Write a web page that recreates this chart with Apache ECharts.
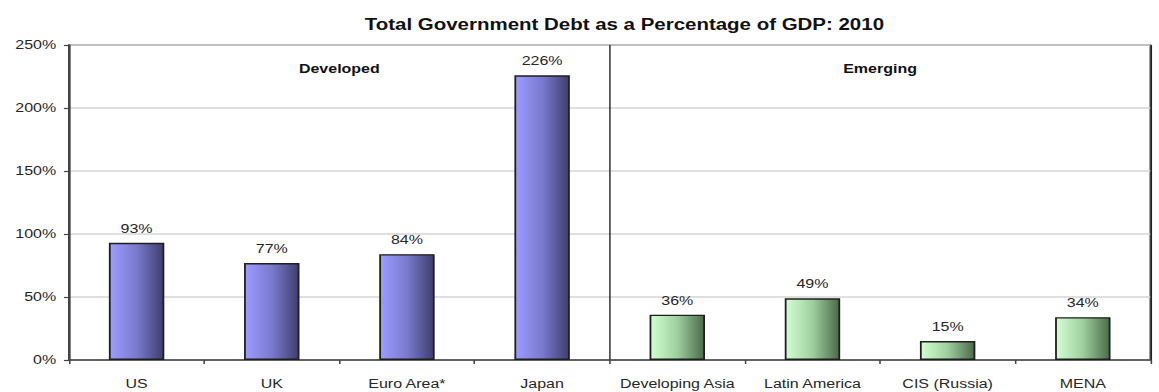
<!DOCTYPE html>
<html>
<head>
<meta charset="utf-8">
<title>Total Government Debt as a Percentage of GDP: 2010</title>
<script src="https://cdn.jsdelivr.net/npm/echarts@6/dist/echarts.min.js"></script>
<style>
  html, body { margin: 0; padding: 0; background: #fff; overflow: hidden; }
  /* The chart is laid out narrow and widened horizontally, giving the broad lettering of the original graphic */
  #chart { height: 392px; transform-origin: 0 0; }
</style>
</head>
<body>
<div id="chart"></div>
<script>
// ---- data ----
const chartTitle = 'Total Government Debt as a Percentage of GDP: 2010';
const categories = ['US', 'UK', 'Euro Area*', 'Japan', 'Developing Asia', 'Latin America', 'CIS (Russia)', 'MENA'];
const debtPct = [93, 77, 84, 226, 36, 49, 15, 34];
const groupNames = ['Developed', 'Emerging'];
const groupOfCategory = [0, 0, 0, 0, 1, 1, 1, 1];
const yMin = 0, yMax = 250, yStep = 50;

// ---- layout ----
const PAGE_W = 1159;
const STRETCH = 1.28;
const W = PAGE_W / STRETCH;
const el = document.getElementById('chart');
el.style.width = W + 'px';
el.style.transform = 'scaleX(' + STRETCH + ')';

const groupFill = [
  ['#9c9cff', '#7a7ad0', '#3e3e6c'],
  ['#d2ffd2', '#9fcf9f', '#4a6a4a']
];
function barGradient(g) {
  const c = groupFill[g];
  return new echarts.graphic.LinearGradient(0, 0, 1, 0, [
    { offset: 0, color: c[0] },
    { offset: 0.5, color: c[1] },
    { offset: 1, color: c[2] }
  ]);
}

const textColor = '#262626';
const font = 'Liberation Sans, Arial, sans-serif';

const chart = echarts.init(el, null, { renderer: 'svg' });
chart.setOption({
  animation: false,
  backgroundColor: '#fff',
  textStyle: { fontFamily: font },
  title: {
    text: chartTitle,
    left: 618 / STRETCH,
    textAlign: 'center',
    top: 11,
    textStyle: { fontFamily: font, fontSize: 16, fontWeight: 'bold', color: '#111' }
  },
  grid: {
    left: 69 / STRETCH,
    right: 8 / STRETCH,
    top: 45,
    bottom: 32,
    show: true,
    borderColor: '#555',
    borderWidth: 1.5,
    containLabel: false
  },
  xAxis: [
    {
      type: 'category',
      data: categories,
      boundaryGap: true,
      axisLine: { lineStyle: { color: '#444', width: 1.5 } },
      axisTick: { show: true, length: 4, inside: false, lineStyle: { color: '#444', width: 1.2 } },
      axisLabel: { color: textColor, fontSize: 12.5, margin: 17, fontFamily: font, interval: 0 },
      splitLine: { show: false }
    },
    {
      // group axis: its boundaries give the Developed / Emerging divider
      type: 'category',
      data: groupNames,
      position: 'top',
      boundaryGap: true,
      axisLine: { show: false },
      axisTick: { show: false },
      splitLine: { show: true, interval: 0, lineStyle: { color: '#222', width: 1.1 } },
      axisLabel: {
        inside: true, margin: 17, color: '#111',
        fontSize: 12.5, fontWeight: 'bold', fontFamily: font, interval: 0
      }
    }
  ],
  yAxis: {
    type: 'value',
    min: yMin,
    max: yMax,
    interval: yStep,
    axisLine: { show: true, lineStyle: { color: '#444', width: 1.7 } },
    axisTick: { show: true, length: 4, lineStyle: { color: '#444', width: 1.2 } },
    axisLabel: { color: textColor, fontSize: 12.5, margin: 10, fontFamily: font, formatter: '{value}%' },
    splitLine: { show: true, lineStyle: { color: '#d4d4d4', width: 1.5 } }
  },
  series: [{
    type: 'bar',
    xAxisIndex: 0,
    barWidth: '41%',
    data: debtPct.map((v, i) => ({
      value: v,
      itemStyle: { color: barGradient(groupOfCategory[i]) }
    })),
    itemStyle: { borderColor: '#1e1e1e', borderWidth: 1.4 },
    label: {
      show: true,
      position: 'top',
      distance: 8,
      color: textColor,
      fontSize: 12.5,
      fontFamily: font,
      formatter: '{c}%'
    }
  }]
});
</script>
</body>
</html>
